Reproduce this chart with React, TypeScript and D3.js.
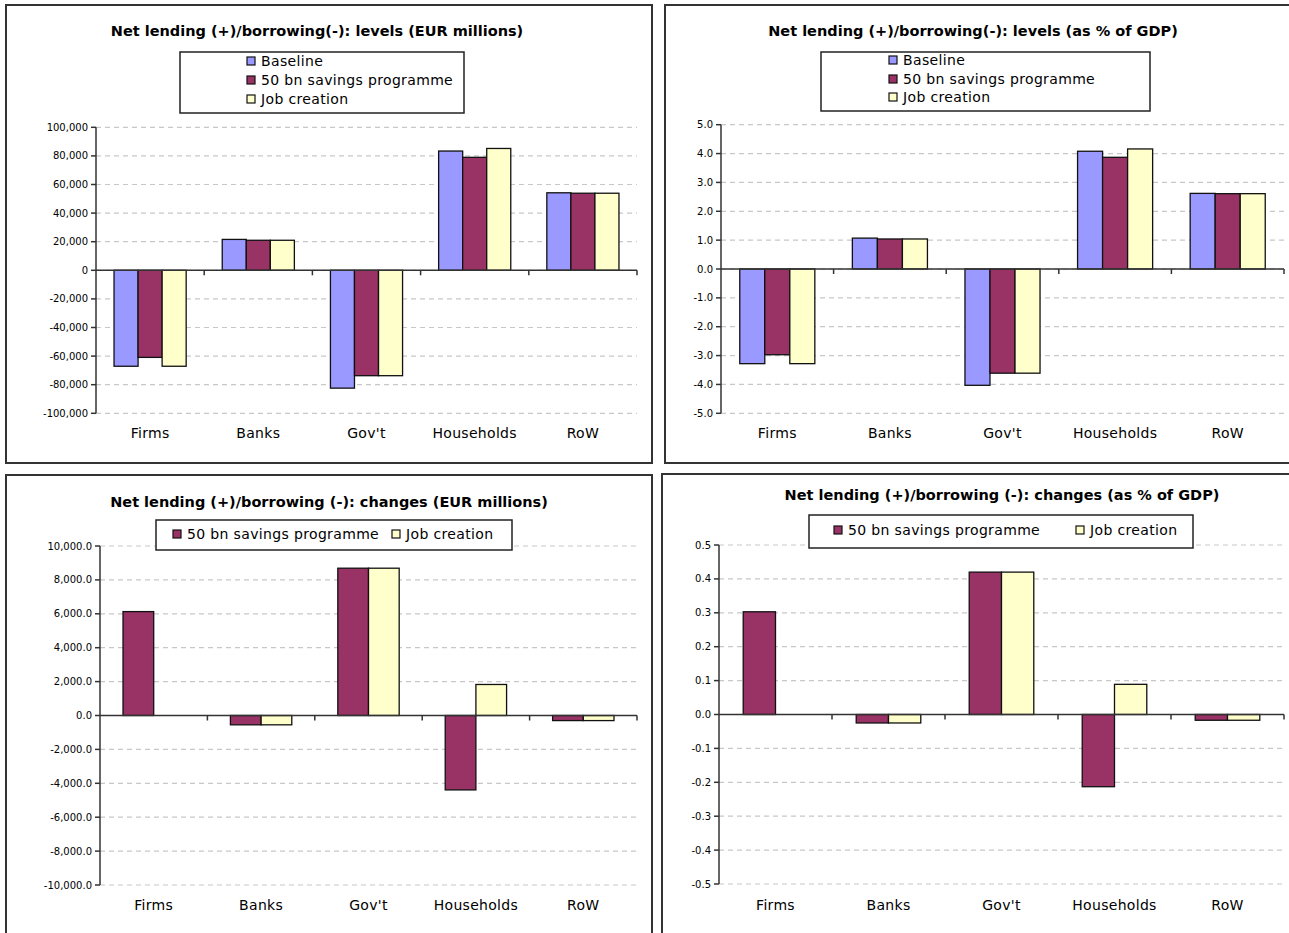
import React from "react";
import * as d3 from "d3";

const categories = ["Firms", "Banks", "Gov't", "Households", "RoW"];
const seriesNames = ["Baseline", "50 bn savings programme", "Job creation"];
const seriesColors = ["#9999FF", "#993366", "#FFFFCC"];

// Levels, EUR millions
const levelEurBaseline = [-67100, 21600, -82400, 83400, 54200];
const levelEurSavings = [-60900, 21000, -73700, 79000, 53900];
const levelEurJob = [-67100, 21000, -73700, 85200, 53900];

// Levels, % of GDP
const levelGdpBaseline = [-3.28, 1.07, -4.03, 4.08, 2.62];
const levelGdpSavings = [-2.97, 1.04, -3.61, 3.87, 2.61];
const levelGdpJob = [-3.28, 1.04, -3.61, 4.16, 2.61];

// Changes, EUR millions
const changeEurSavings = [6130, -550, 8690, -4390, -300];
const changeEurJob = [0, -550, 8690, 1830, -300];

// Changes, % of GDP
const changeGdpSavings = [0.303, -0.025, 0.42, -0.213, -0.017];
const changeGdpJob = [0, -0.025, 0.42, 0.089, -0.017];

const ticksEurLevel = [-100000, -80000, -60000, -40000, -20000, 0, 20000, 40000, 60000, 80000, 100000];
const ticksGdpLevel = [-5, -4, -3, -2, -1, 0, 1, 2, 3, 4, 5];
const ticksEurChange = [-10000, -8000, -6000, -4000, -2000, 0, 2000, 4000, 6000, 8000, 10000];
const ticksGdpChange = [-0.5, -0.4, -0.3, -0.2, -0.1, 0, 0.1, 0.2, 0.3, 0.4, 0.5];

const FONT = "'DejaVu Sans', Verdana, sans-serif";

type Series = { name: string; color: string; values: number[] };
type LegendItem = { name: string; color: string; mx: number; my: number };

type PanelProps = {
  border: { x: number; y: number; w: number; h: number };
  plot: { left: number; right: number; top: number; bottom: number };
  ticks: number[];
  fmt: (v: number) => string;
  series: Series[];
  title: string;
  titleX: number;
  titleY: number;
  legendBox: { x: number; y: number; w: number; h: number };
  legendItems: LegendItem[];
  catLabelY: number;
};

function Panel(p: PanelProps) {
  const y = d3
    .scaleLinear()
    .domain([p.ticks[0], p.ticks[p.ticks.length - 1]])
    .range([p.plot.bottom, p.plot.top]);
  const x = d3
    .scaleBand<string>()
    .domain(categories)
    .range([p.plot.left, p.plot.right])
    .padding(0);
  const C = x.bandwidth();
  const n = p.series.length;
  const bw = C / (n + 1.5);
  const off = (C - n * bw) / 2;
  const y0 = y(0);
  return (
    <g>
      <rect
        x={p.border.x}
        y={p.border.y}
        width={p.border.w}
        height={p.border.h}
        fill="#fff"
        stroke="#333"
        strokeWidth={2}
      />
      {p.ticks.map((t) => (
        <line
          key={"g" + t}
          x1={p.plot.left}
          x2={p.plot.right}
          y1={y(t)}
          y2={y(t)}
          stroke="#c8c8c8"
          strokeWidth={1.2}
          strokeDasharray="5,4"
        />
      ))}
      {p.series.map((s, si) =>
        s.values.map((v, ci) => {
          if (v === 0) return null;
          const bx = (x(categories[ci]) as number) + off + si * bw;
          const top = Math.min(y(v), y0);
          const h = Math.abs(y(v) - y0);
          return (
            <rect
              key={s.name + ci}
              x={bx}
              y={top}
              width={bw}
              height={h}
              fill={s.color}
              stroke="#111"
              strokeWidth={1.3}
            />
          );
        })
      )}
      <line x1={p.plot.left} x2={p.plot.left} y1={p.plot.top} y2={p.plot.bottom} stroke="#333" strokeWidth={1.5} />
      {p.ticks.map((t) => (
        <g key={"t" + t}>
          <line x1={p.plot.left - 5} x2={p.plot.left} y1={y(t)} y2={y(t)} stroke="#333" strokeWidth={1.5} />
          <text
            x={p.plot.left - 8}
            y={y(t)}
            dy="0.35em"
            textAnchor="end"
            fontFamily={FONT}
            fontSize={10}
            fill="#000"
          >
            {p.fmt(t)}
          </text>
        </g>
      ))}
      <line x1={p.plot.left} x2={p.plot.right} y1={y0} y2={y0} stroke="#333" strokeWidth={1.5} />
      {categories.map((c) => (
        <line
          key={"ct" + c}
          x1={(x(c) as number) + C}
          x2={(x(c) as number) + C}
          y1={y0}
          y2={y0 + 5}
          stroke="#333"
          strokeWidth={1.5}
        />
      ))}
      {categories.map((c) => (
        <text
          key={"cl" + c}
          x={(x(c) as number) + C / 2}
          y={p.catLabelY}
          dy="0.35em"
          textAnchor="middle"
          fontFamily={FONT}
          fontSize={14}
          letterSpacing={0.3}
          fill="#000"
        >
          {c}
        </text>
      ))}
      <text
        x={p.titleX}
        y={p.titleY}
        dy="0.35em"
        textAnchor="middle"
        fontFamily={FONT}
        fontWeight="bold"
        fontSize={14.5}
        fill="#000"
      >
        {p.title}
      </text>
      <rect
        x={p.legendBox.x}
        y={p.legendBox.y}
        width={p.legendBox.w}
        height={p.legendBox.h}
        fill="#fff"
        stroke="#222"
        strokeWidth={1.5}
      />
      {p.legendItems.map((li) => (
        <g key={"l" + li.name}>
          <rect x={li.mx} y={li.my - 4} width={8} height={8} fill={li.color} stroke="#111" strokeWidth={1.2} />
          <text
            x={li.mx + 14}
            y={li.my}
            dy="0.35em"
            fontFamily={FONT}
            fontSize={14}
            letterSpacing={0.35}
            fill="#000"
          >
            {li.name}
          </text>
        </g>
      ))}
    </g>
  );
}

const hyphen = (s: string) => s.replace(/\u2212/g, "-");

export default function App() {
  const fmtInt = (v: number) => hyphen(d3.format(",.0f")(v));
  const fmtDec = (v: number) => hyphen(d3.format(",.1f")(v));
  const s3 = (a: number[], b: number[], c: number[]): Series[] => [
    { name: seriesNames[0], color: seriesColors[0], values: a },
    { name: seriesNames[1], color: seriesColors[1], values: b },
    { name: seriesNames[2], color: seriesColors[2], values: c },
  ];
  const s2 = (b: number[], c: number[]): Series[] => [
    { name: seriesNames[1], color: seriesColors[1], values: b },
    { name: seriesNames[2], color: seriesColors[2], values: c },
  ];
  return (
    <div style={{ position: "absolute", left: 0, top: 0 }}>
      <svg width={1289} height={933} style={{ display: "block", background: "#fff" }}>
        <Panel
          border={{ x: 6, y: 5, w: 646, h: 458 }}
          plot={{ left: 96, right: 637, top: 127.3, bottom: 413.3 }}
          ticks={ticksEurLevel}
          fmt={fmtInt}
          series={s3(levelEurBaseline, levelEurSavings, levelEurJob)}
          title="Net lending (+)/borrowing(-): levels (EUR millions)"
          titleX={317}
          titleY={31}
          legendBox={{ x: 180, y: 52, w: 284, h: 61 }}
          legendItems={[
            { name: seriesNames[0], color: seriesColors[0], mx: 247, my: 61 },
            { name: seriesNames[1], color: seriesColors[1], mx: 247, my: 80 },
            { name: seriesNames[2], color: seriesColors[2], mx: 247, my: 99 },
          ]}
          catLabelY={433}
        />
        <Panel
          border={{ x: 665, y: 5, w: 640, h: 458 }}
          plot={{ left: 721, right: 1284, top: 124.7, bottom: 413.3 }}
          ticks={ticksGdpLevel}
          fmt={fmtDec}
          series={s3(levelGdpBaseline, levelGdpSavings, levelGdpJob)}
          title="Net lending (+)/borrowing(-): levels (as % of GDP)"
          titleX={973}
          titleY={31}
          legendBox={{ x: 821, y: 52, w: 329, h: 59 }}
          legendItems={[
            { name: seriesNames[0], color: seriesColors[0], mx: 889, my: 60 },
            { name: seriesNames[1], color: seriesColors[1], mx: 889, my: 79 },
            { name: seriesNames[2], color: seriesColors[2], mx: 889, my: 97 },
          ]}
          catLabelY={433}
        />
        <Panel
          border={{ x: 6, y: 475, w: 646, h: 470 }}
          plot={{ left: 100, right: 637, top: 546, bottom: 885 }}
          ticks={ticksEurChange}
          fmt={fmtDec}
          series={s2(changeEurSavings, changeEurJob)}
          title="Net lending (+)/borrowing (-): changes (EUR millions)"
          titleX={329}
          titleY={502}
          legendBox={{ x: 156, y: 520, w: 356, h: 30 }}
          legendItems={[
            { name: seriesNames[1], color: seriesColors[1], mx: 173, my: 534 },
            { name: seriesNames[2], color: seriesColors[2], mx: 392, my: 534 },
          ]}
          catLabelY={905}
        />
        <Panel
          border={{ x: 662, y: 474, w: 640, h: 470 }}
          plot={{ left: 719, right: 1284, top: 545, bottom: 884 }}
          ticks={ticksGdpChange}
          fmt={fmtDec}
          series={s2(changeGdpSavings, changeGdpJob)}
          title="Net lending (+)/borrowing (-): changes (as % of GDP)"
          titleX={1002}
          titleY={495}
          legendBox={{ x: 809, y: 515, w: 384, h: 33 }}
          legendItems={[
            { name: seriesNames[1], color: seriesColors[1], mx: 834, my: 530 },
            { name: seriesNames[2], color: seriesColors[2], mx: 1076, my: 530 },
          ]}
          catLabelY={905}
        />
      </svg>
    </div>
  );
}
